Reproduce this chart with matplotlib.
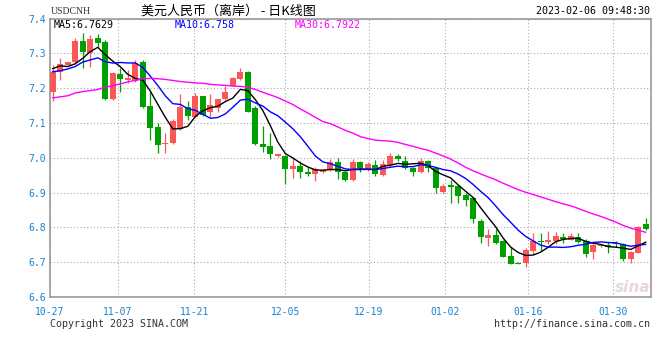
import numpy as np
import pandas as pd
import matplotlib
matplotlib.use("Agg")
import matplotlib.pyplot as plt

# daily candles USDCNH, 10-27 .. 02-06
opens = [7.190, 7.247, 7.267, 7.276, 7.335, 7.300, 7.343, 7.332, 7.169, 7.240,
         7.223, 7.221, 7.274, 7.149, 7.089, 7.039, 7.043, 7.082, 7.147, 7.118,
         7.177, 7.132, 7.144, 7.168, 7.207, 7.226, 7.245, 7.144, 7.040, 7.034,
         7.004, 7.006, 6.968, 6.976, 6.960, 6.954, 6.958, 6.964, 6.987, 6.960,
         6.936, 6.989, 6.965, 6.979, 6.950, 6.979, 7.005, 6.991, 6.970, 6.958,
         6.991, 6.970, 6.901, 6.922, 6.919, 6.892, 6.884, 6.818, 6.770, 6.778,
         6.761, 6.718, 6.699, 6.698, 6.733, 6.761, 6.758, 6.761, 6.771, 6.765,
         6.773, 6.761, 6.730, 6.746, 6.749, 6.756, 6.751, 6.709, 6.727, 6.809]
highs = [7.265, 7.287, 7.276, 7.343, 7.357, 7.353, 7.355, 7.338, 7.246, 7.257,
         7.252, 7.281, 7.281, 7.188, 7.099, 7.070, 7.111, 7.182, 7.163, 7.187,
         7.178, 7.183, 7.170, 7.207, 7.232, 7.259, 7.249, 7.150, 7.092, 7.071,
         7.011, 7.008, 6.998, 6.990, 6.974, 6.974, 6.965, 6.996, 6.998, 6.962,
         6.996, 6.991, 6.987, 6.993, 6.993, 7.013, 7.011, 7.005, 6.972, 6.998,
         6.993, 6.972, 6.926, 6.936, 6.921, 6.898, 6.886, 6.825, 6.795, 6.794,
         6.763, 6.744, 6.700, 6.740, 6.783, 6.783, 6.790, 6.787, 6.784, 6.784,
         6.784, 6.768, 6.759, 6.750, 6.759, 6.761, 6.756, 6.732, 6.805, 6.826]
lows = [7.162, 7.222, 7.266, 7.270, 7.257, 7.260, 7.319, 7.166, 7.167, 7.190,
        7.214, 7.218, 7.142, 7.052, 7.013, 7.015, 7.040, 7.080, 7.108, 7.113,
        7.120, 7.118, 7.130, 7.165, 7.205, 7.224, 7.130, 7.036, 7.017, 6.996,
        7.003, 6.924, 6.943, 6.943, 6.948, 6.933, 6.957, 6.962, 6.939, 6.932,
        6.933, 6.960, 6.963, 6.947, 6.948, 6.977, 6.991, 6.968, 6.948, 6.955,
        6.960, 6.898, 6.899, 6.871, 6.871, 6.861, 6.813, 6.756, 6.746, 6.751,
        6.714, 6.694, 6.694, 6.687, 6.723, 6.733, 6.752, 6.751, 6.756, 6.763,
        6.756, 6.716, 6.709, 6.745, 6.727, 6.744, 6.703, 6.697, 6.725, 6.792]
closes = [7.245, 7.268, 7.275, 7.335, 7.305, 7.341, 7.330, 7.169, 7.243, 7.226,
          7.230, 7.271, 7.145, 7.086, 7.036, 7.043, 7.105, 7.147, 7.121, 7.177,
          7.123, 7.151, 7.168, 7.188, 7.228, 7.247, 7.132, 7.039, 7.031, 7.011,
          7.010, 6.968, 6.977, 6.958, 6.954, 6.968, 6.964, 6.987, 6.958, 6.936,
          6.989, 6.970, 6.982, 6.954, 6.982, 7.005, 6.996, 6.970, 6.960, 6.991,
          6.970, 6.914, 6.920, 6.917, 6.890, 6.878, 6.825, 6.773, 6.778, 6.756,
          6.716, 6.695, 6.695, 6.735, 6.761, 6.758, 6.765, 6.775, 6.768, 6.775,
          6.759, 6.723, 6.749, 6.749, 6.743, 6.752, 6.709, 6.730, 6.802, 6.794]

# MA values at the start of the window (need data from before 10-27)
ma5_head = [7.256, 7.264, 7.262, 7.270]
ma10_head = [7.247, 7.250, 7.255, 7.262, 7.275, 7.281, 7.287, 7.276, 7.272]
ma30_head = [7.172, 7.175, 7.178, 7.186, 7.190, 7.193, 7.196, 7.203, 7.207, 7.212,
             7.218, 7.222, 7.227, 7.228, 7.227, 7.225, 7.222, 7.219, 7.217, 7.215,
             7.214, 7.211, 7.209, 7.208, 7.206, 7.205, 7.203, 7.196, 7.188]

date_labels = ["10-27", "11-07", "11-21", "12-05", "12-19", "01-02", "01-16", "01-30"]
date_pos = [-0.36, 8.7, 18.87, 30.99, 42.1, 52.22, 63.36, 74.6]
legend_texts = ["MA5:6.7629", "MA10:6.758", "MA30:6.7922"]

RED = "#fa5858"
GREEN = "#00a000"
BLUE_TXT = "#1583d4"

c = pd.Series(closes)
def ma(n, head):
    m = c.rolling(n).mean().to_numpy()
    m[:len(head)] = head
    return m
ma5 = ma(5, ma5_head)
ma10 = ma(10, ma10_head)
ma30 = ma(30, ma30_head)

x = np.arange(len(closes))
o = np.array(opens); h = np.array(highs); l = np.array(lows); cl = np.array(closes)
up = cl >= o
cols = np.where(up, RED, GREEN)

fig = plt.figure(figsize=(6.6, 3.6), dpi=100)
ax = fig.add_axes([50 / 660, 63 / 360, 600.5 / 660, 278.5 / 360])

ax.vlines(x, l, h, colors=cols, linewidth=0.9, zorder=3)
body = np.maximum(np.abs(cl - o), 0.003)
ax.bar(x, body, bottom=np.minimum(o, cl), width=0.8, color=cols, linewidth=0, zorder=4)

ax.plot(x, ma5, color="black", lw=1, zorder=5)
ax.plot(x, ma10, color="#0000ff", lw=1, zorder=5)
ax.plot(x, ma30, color="#ff00ff", lw=1, zorder=5)

ax.set_xlim(-0.36, 79.64)
ax.set_ylim(6.6, 7.4)
ax.set_yticks(np.arange(6.6, 7.41, 0.1))
ax.set_yticklabels([f"{v:.1f}" for v in np.arange(6.6, 7.41, 0.1)])
ax.set_xticks(date_pos)
ax.set_xticklabels(date_labels)
ax.tick_params(length=0, labelsize=7, labelcolor=BLUE_TXT)
ax.tick_params(axis="y", pad=3)
ax.tick_params(axis="x", pad=7)
for t in ax.get_xticklabels() + ax.get_yticklabels():
    t.set_family("DejaVu Sans Mono")
ax.grid(True, color="#aaaaaa", linestyle=(0, (1, 2)), linewidth=0.8)
ax.set_axisbelow(True)
for s in ax.spines.values():
    s.set_color("#999999")
    s.set_linewidth(1.2)

# MA legend row
for txt, xp, col in zip(legend_texts, [54, 175, 295], ["black", "#0000ff", "#ff00ff"]):
    fig.text(xp / 660, 1 - 24.5 / 360, txt, color=col, fontsize=7.2,
             family="DejaVu Sans Mono", va="center", ha="left")

# header
fig.text(51 / 660, 1 - 11 / 360, "USDCNH", fontsize=7, family="Liberation Serif",
         color="#333333", va="center")
fig.text(141 / 660, 1 - 11 / 360, "美元人民币（离岸） - 日K线图", fontsize=9.4,
         family=["Noto Sans CJK SC", "DejaVu Sans"], color="black", va="center")
fig.text(650 / 660, 1 - 11 / 360, "2023-02-06 09:48:30", fontsize=7.2,
         family="DejaVu Sans Mono", color="black", va="center", ha="right")

# footer
fig.text(50 / 660, 1 - 324 / 360, "Copyright 2023 SINA.COM", fontsize=7.2,
         family="DejaVu Sans Mono", color="#333333", va="center")
fig.text(650 / 660, 1 - 324 / 360, "http://finance.sina.com.cn", fontsize=7.2,
         family="DejaVu Sans Mono", color="#333333", va="center", ha="right")

# watermark
fig.text(633 / 660, 1 - 288 / 360, "sina", fontsize=11, style="italic", weight="bold",
         color="#ead6d6", ha="center", va="center", zorder=0)

fig.savefig("out.png", dpi=100)
